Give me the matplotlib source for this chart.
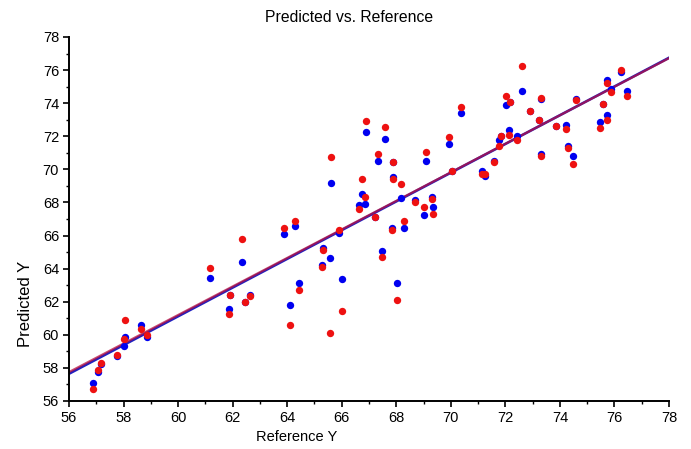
import matplotlib
matplotlib.use("Agg")
import matplotlib.pyplot as plt
from matplotlib.ticker import MultipleLocator

plt.rcParams['font.family'] = ['Liberation Sans', 'DejaVu Sans']

# reference values (x) with the two predicted series
ref_y = [56.87, 57.07, 57.18, 57.76, 58.03, 58.07, 58.65, 58.86, 61.17, 61.85,
         61.91, 62.35, 62.46, 62.64, 63.88, 64.29, 64.11, 64.43, 65.32, 65.26,
         65.56, 65.61, 65.89, 66.00, 66.65, 66.76, 66.84, 66.89, 67.23, 67.34,
         67.49, 67.58, 67.84, 67.89, 67.89, 68.04, 68.18, 68.28, 68.67, 69.02,
         69.10, 69.31, 69.36, 69.94, 70.04, 70.36, 71.14, 71.27, 71.59, 71.77,
         71.83, 72.03, 72.17, 72.14, 72.43, 72.62, 72.91, 73.22, 73.30, 73.30,
         73.85, 74.21, 74.29, 74.48, 74.59, 75.48, 75.58, 75.74, 75.74, 75.87,
         76.23, 76.47]
pred_blue = [57.11, 57.78, 58.24, 58.72, 59.35, 59.85, 60.60, 59.85, 63.43, 61.57,
             62.38, 64.38, 62.01, 62.42, 66.07, 66.55, 61.83, 63.16, 65.24, 64.21,
             64.66, 69.20, 66.15, 63.37, 67.83, 68.51, 67.93, 72.27, 67.12, 70.53,
             65.08, 71.86, 66.43, 69.54, 70.45, 63.16, 68.27, 66.45, 68.13, 67.22,
             70.53, 68.31, 67.71, 71.56, 69.88, 73.38, 69.88, 69.58, 70.53, 71.80,
             72.00, 73.86, 74.06, 72.35, 72.00, 74.71, 73.52, 73.01, 74.28, 70.93,
             72.65, 72.67, 71.44, 70.83, 74.26, 72.85, 73.96, 73.26, 75.43, 74.87,
             75.90, 74.73]
pred_red = [56.73, 57.88, 58.32, 58.76, 59.73, 60.90, 60.34, 60.00, 64.01, 61.27,
            62.38, 65.79, 62.01, 62.32, 66.45, 66.86, 60.60, 62.68, 65.14, 64.11,
            60.14, 70.73, 66.31, 61.45, 67.62, 69.42, 68.33, 72.91, 67.12, 70.95,
            64.68, 72.55, 66.31, 69.42, 70.45, 62.12, 69.12, 66.86, 68.03, 67.71,
            71.03, 68.21, 67.32, 71.96, 69.88, 73.78, 69.72, 69.72, 70.45, 71.40,
            72.00, 74.43, 74.06, 72.06, 71.80, 76.24, 73.52, 73.01, 74.33, 70.83,
            72.61, 72.45, 71.30, 70.33, 74.18, 72.51, 73.96, 73.01, 75.23, 74.69,
            75.98, 74.43]

# fitted lines (slope, intercept)
fit_blue = (0.868, 9.04)
fit_red = (0.8623, 9.46)
x_range = [56, 78]

fig = plt.figure(figsize=(6.91, 4.49), dpi=100)
ax = fig.add_axes([69/691, 1 - 401/449, 600/691, 364/449])

line_x = x_range
ax.plot(line_x, [fit_blue[0]*v + fit_blue[1] for v in line_x], color='#2020c0', lw=1.9, zorder=1)
ax.plot(line_x, [fit_red[0]*v + fit_red[1] for v in line_x], color='#b8103f', lw=1.6, alpha=0.75, zorder=2)

ax.scatter(ref_y, pred_blue, s=28, color='#0000f0', linewidths=0, zorder=3)
ax.scatter(ref_y, pred_red, s=28, color='#ee1111', linewidths=0, zorder=4)

ax.set_xlim(56, 78)
ax.set_ylim(56, 78)
ax.xaxis.set_major_locator(MultipleLocator(2))
ax.xaxis.set_minor_locator(MultipleLocator(1))
ax.yaxis.set_major_locator(MultipleLocator(2))
ax.yaxis.set_minor_locator(MultipleLocator(1))
ax.tick_params(which='major', length=4.2, width=1.2, labelsize=10.5, pad=3)
ax.tick_params(which='minor', length=2.3, width=1.0)

for s in ['top', 'right']:
    ax.spines[s].set_visible(False)
for s in ['left', 'bottom']:
    ax.spines[s].set_linewidth(1.4)

ax.set_xlabel("Reference Y", fontsize=10.5)
ax.xaxis.set_label_coords(0.38, -0.08)
ax.set_ylabel("Predicted Y", fontsize=12)
ax.yaxis.set_label_coords(-0.06, 0.266)

fig.text(0.505, 1 - 18/449, "Predicted vs. Reference", fontsize=11.3, ha='center', va='center')

fig.savefig("out.png", dpi=100)
